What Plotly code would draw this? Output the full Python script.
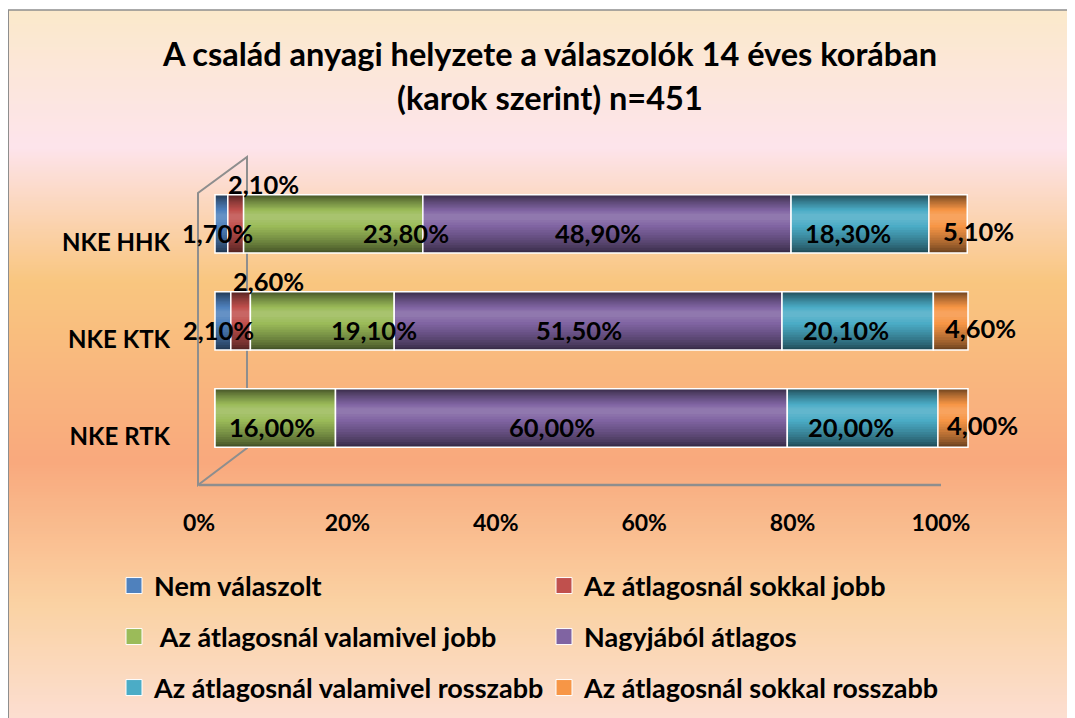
import base64
import struct
import zlib

import plotly.graph_objects as go

# ── Data ──────────────────────────────────────────────────────
CATEGORIES = ["NKE RTK", "NKE KTK", "NKE HHK"]
SERIES = ["Nem válaszolt", "Az átlagosnál sokkal jobb",
          " Az átlagosnál valamivel jobb", "Nagyjából átlagos",
          "Az átlagosnál valamivel rosszabb", "Az átlagosnál sokkal rosszabb"]
nem_valaszolt = [0.0, 2.1, 1.7]
sokkal_jobb = [0.0, 2.6, 2.1]
valamivel_jobb = [16.0, 19.1, 23.8]
nagyjabol_atlagos = [60.0, 51.5, 48.9]
valamivel_rosszabb = [20.0, 20.1, 18.3]
sokkal_rosszabb = [4.0, 4.6, 5.1]
X_TICKS = [0, 20, 40, 60, 80, 100]

VALUES = [nem_valaszolt, sokkal_jobb, valamivel_jobb,
          nagyjabol_atlagos, valamivel_rosszabb, sokkal_rosszabb]
COLORS = ["#4F81BD", "#C0504D", "#9BBB59", "#8064A2", "#4BACC6", "#F79646"]

# ── Layout geometry (pixels) ──────────────────────────────────
# the page body has an 8px margin, so targets are shifted by OFF
W, H = 1075, 718
OFF = 8
PW, PH = 790, 301
ML, MT = 190 - OFF, 184 - OFF
MR, MB = W - ML - PW, H - MT - PH
FONT = "Lato"
BOLD = dict(family=FONT, color="black", weight="bold")


def px_x(px):
    return (px - OFF - ML) / PW


def px_y(py):
    return (H - MB - (py - OFF)) / PH


def shade(hex_color, f):
    r, g, b = (int(hex_color[i:i + 2], 16) for i in (1, 3, 5))
    if f < 0:
        r, g, b = (c * (1 + f) for c in (r, g, b))
    else:
        r, g, b = (c + (255 - c) * f for c in (r, g, b))
    return "rgb(%d,%d,%d)" % (r, g, b)


def gradient_png(stops, height):
    def lerp(a, b, t):
        return int(round(a + (b - a) * t))
    raw = b""
    for i in range(height):
        y = i / (height - 1)
        for (p0, c0), (p1, c1) in zip(stops, stops[1:]):
            if p0 <= y <= p1:
                t = (y - p0) / (p1 - p0)
                rgb = [lerp(c0[k], c1[k], t) for k in range(3)]
                break
        raw += b"\x00" + bytes(rgb) * 2

    def chunk(tag, data):
        return (struct.pack(">I", len(data)) + tag + data
                + struct.pack(">I", zlib.crc32(tag + data) & 0xffffffff))
    png = (b"\x89PNG\r\n\x1a\n"
           + chunk(b"IHDR", struct.pack(">IIBBBBB", 2, height, 8, 2, 0, 0, 0))
           + chunk(b"IDAT", zlib.compress(raw))
           + chunk(b"IEND", b""))
    return "data:image/png;base64," + base64.b64encode(png).decode()


def pct(v):
    return ("%.2f%%" % v).replace(".", ",")


BG_STOPS = [
    (0.00, (251, 233, 203)),
    (0.19, (253, 228, 236)),
    (0.38, (249, 198, 127)),
    (0.63, (249, 169, 125)),
    (0.83, (250, 210, 163)),
    (1.00, (252, 223, 212)),
]

# cylinder shading: stacked bands, dark at the edges, light just above centre
BAR_W = 0.60
N_BANDS = 14
LAYERS = []
for i in range(N_BANDS):
    t = i / (N_BANDS - 1)
    w = BAR_W - t * (BAR_W - 0.06)
    LAYERS.append((w, 0.07 * t, -0.55 + 0.68 * t ** 0.8))
LABEL_FONT = dict(BOLD, size=25.5)

# label nudges in pixels (x, y) per series, as Excel's 3D layout places them
LABEL_SHIFT = [(-4, -9), (28, 40), (-3, -9), (-9, -9), (-12, -9), (30, -7)]
GREEN_NUDGE = {"NKE HHK": 76, "NKE KTK": 55, "NKE RTK": 0}

fig = go.Figure()

bases = [0.0] * len(CATEGORIES)
annotations = []
for s, (name, vals, col) in enumerate(zip(SERIES, VALUES, COLORS)):
    base = list(bases)
    for w, shift, f in LAYERS:
        fig.add_trace(go.Bar(
            y=CATEGORIES, x=vals, base=base, orientation="h",
            width=w, offset=shift - w / 2,
            marker=dict(color=shade(col, f), line=dict(width=0)),
            showlegend=False, hoverinfo="skip",
        ))
    # white outline on top of the shading
    fig.add_trace(go.Bar(
        y=CATEGORIES, x=vals, base=base, orientation="h",
        width=BAR_W, offset=-BAR_W / 2,
        marker=dict(color="rgba(0,0,0,0)", line=dict(color="white", width=1.5)),
        showlegend=False, name=name,
        hovertemplate="<b>%{y}</b><br>" + name + ": %{x:.1f}%<extra></extra>",
    ))
    for cat, b, v in zip(CATEGORIES, base, vals):
        if v <= 0:
            continue
        dx, dy = LABEL_SHIFT[s]
        if s == 2:
            dx += GREEN_NUDGE[cat]
        annotations.append(dict(
            x=b + v / 2, y=cat, xref="x", yref="y", text=pct(v),
            showarrow=False, xshift=dx, yshift=dy, font=LABEL_FONT,
        ))
    bases = [b + v for b, v in zip(bases, vals)]

# second title line
annotations.append(dict(
    text="(karok szerint) n=451", x=px_x(550), y=px_y(98),
    xref="paper", yref="paper", xanchor="center", yanchor="middle",
    showarrow=False, font=dict(BOLD, size=32.5),
))

# legend entries: one small legend per entry, 3 rows x 2 columns
LEG_POS = [(114, 586), (544, 586), (114, 637), (544, 637), (114, 688), (544, 688)]
legends = {}
for s, (name, col) in enumerate(zip(SERIES, COLORS)):
    key = "legend" if s == 0 else "legend%d" % (s + 1)
    fig.add_trace(go.Scatter(
        x=[None], y=[None], name=name, mode="markers",
        marker=dict(symbol="square", size=16, color=col,
                    line=dict(color="white", width=1)),
        legend=key, hoverinfo="skip",
    ))
    lx, ly = LEG_POS[s]
    legends[key] = dict(
        orientation="h", xref="container", yref="container",
        x=(lx - OFF) / W, y=1 - (ly - OFF) / H,
        xanchor="left", yanchor="middle",
        bgcolor="rgba(0,0,0,0)",
        font=dict(BOLD, size=27),
    )

frame = "#8E8E8E"
shapes = [
    # chart border
    dict(type="line", xref="paper", yref="paper", x0=px_x(8), x1=px_x(W + 20),
         y0=px_y(10), y1=px_y(10), line=dict(color=frame, width=1.5)),
    dict(type="line", xref="paper", yref="paper", x0=px_x(8), x1=px_x(8),
         y0=px_y(10), y1=px_y(H + 20), line=dict(color=frame, width=2)),
    # 3D side wall
    dict(type="path", xref="paper", yref="paper",
         path="M%f,%f L%f,%f L%f,%f L%f,%f Z" % (
             px_x(198), px_y(485), px_x(198), px_y(193),
             px_x(247), px_y(157), px_x(247), px_y(448)),
         line=dict(color=frame, width=2), layer="below"),
    # floor
    dict(type="line", xref="x2", yref="paper", x0=0, x1=100, y0=0, y1=0,
         line=dict(color=frame, width=2.5), layer="below"),
]

fig.update_layout(
    width=W, height=H,
    margin=dict(l=ML, r=MR, t=MT, b=MB),
    paper_bgcolor="white", plot_bgcolor="rgba(0,0,0,0)",
    barmode="overlay",
    font=dict(family=FONT, color="black"),
    title=dict(
        text="A család anyagi helyzete a válaszolók 14 éves korában",
        x=(550 - OFF) / W, xanchor="center", xref="container",
        y=1 - (55 - OFF) / H, yanchor="middle", yref="container",
        font=dict(BOLD, size=32.5),
    ),
    xaxis=dict(range=[-25 / 7.53, -25 / 7.53 + PW / 7.53], visible=False,
               fixedrange=True),
    xaxis2=dict(range=[-9 / 7.42, -9 / 7.42 + PW / 7.42], overlaying="x",
                anchor="y", side="bottom", tickvals=X_TICKS,
                ticktext=["%d%%" % t for t in X_TICKS],
                showgrid=False, zeroline=False, showline=False, ticks="",
                ticklabelstandoff=22, tickfont=dict(BOLD, size=23)),
    yaxis=dict(type="category", categoryorder="array", categoryarray=CATEGORIES,
               range=[-0.69, 2.41], showgrid=False, zeroline=False,
               showline=False, ticks="", ticklabelshift=19,
               ticklabelstandoff=19, tickfont=dict(BOLD, size=24)),
    shapes=shapes,
    annotations=annotations,
    images=[dict(
        source=gradient_png(BG_STOPS, 240), xref="paper", yref="paper",
        x=px_x(8), y=px_y(10), sizex=(W + OFF - 8) / PW, sizey=(H + OFF - 10) / PH,
        xanchor="left", yanchor="top", sizing="stretch", layer="below",
    )],
    **legends,
)

fig.write_html("out.html")
